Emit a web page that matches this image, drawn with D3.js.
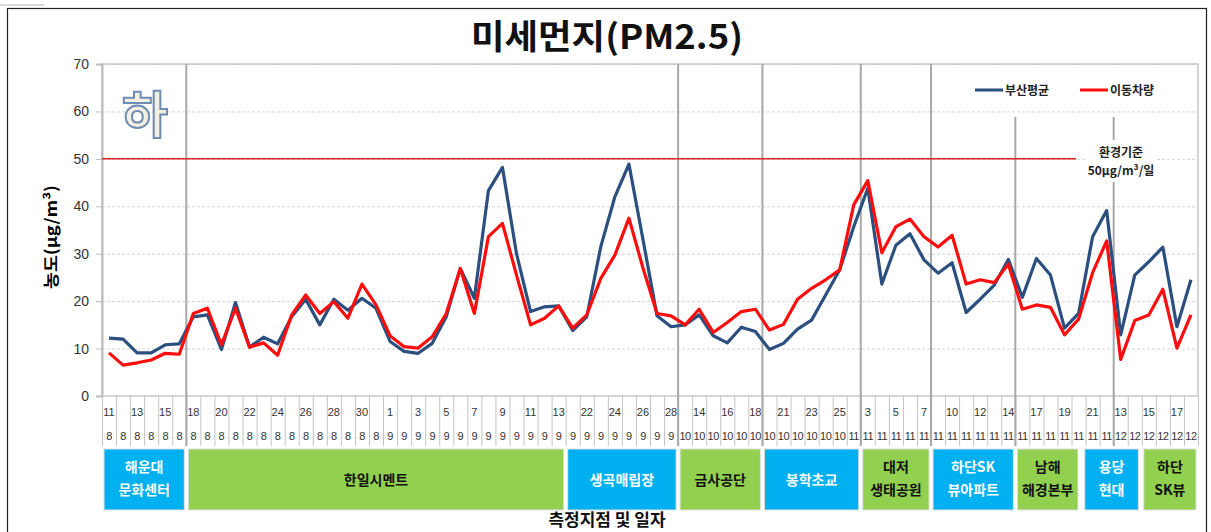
<!DOCTYPE html>
<html>
<head>
<meta charset="utf-8">
<script src="https://cdn.jsdelivr.net/npm/d3@7"></script>
<style>
  body { margin: 0; background: #fff; }
  text { font-family: "Noto Sans CJK KR", "Liberation Sans", sans-serif; }
  .num { font-family: "Liberation Sans", Arial, sans-serif; }
</style>
</head>
<body>
<svg width="1211" height="532"></svg>
<script>
// 측정 일자 (일 / 월)
const dayLabels = [11,12,13,14,15,16,
  18,19,20,21,22,23,24,25,26,27,28,29,30,31,1,2,3,4,5,6,7,8,9,10,11,12,13,
  21,22,23,24,25,26,27,28,
  13,14,15,16,17,18,
  20,21,22,23,24,25,2,
  3,4,5,6,7,
  9,10,11,12,13,14,
  16,17,18,19,20,21,22,
  13,14,15,16,17,18];
const monthLabels = [8,8,8,8,8,8,
  8,8,8,8,8,8,8,8,8,8,8,8,8,8,9,9,9,9,9,9,9,9,9,9,9,9,9,
  9,9,9,9,9,9,9,9,
  10,10,10,10,10,10,
  10,10,10,10,10,10,11,
  11,11,11,11,11,
  11,11,11,11,11,11,
  11,11,11,11,11,11,11,
  12,12,12,12,12,12];

// 부산평균
const busanAvg = [12.2,12.0,9.1,9.1,10.8,11.0,
  16.7,17.1,9.8,19.7,10.3,12.4,11.0,16.7,20.4,15.0,20.4,18.1,20.6,18.5,11.5,9.4,9.0,11.1,16.7,26.9,20.6,43.3,48.2,30.0,17.8,18.8,19.0,
  13.8,16.7,31.5,42.0,48.9,33.0,16.9,14.6,
  15.0,17.1,12.7,11.2,14.5,13.6,
  9.8,11.1,14.1,16.0,21.3,26.6,35.7,
  43.8,23.6,31.8,34.2,28.7,
  25.9,28.1,17.6,20.4,23.4,28.8,
  20.8,29.0,25.5,14.3,17.4,33.6,39.1,
  12.9,25.5,28.3,31.4,14.6,24.5];
// 이동차량
const mobileCar = [9.1,6.5,7.0,7.6,9.0,8.8,
  17.4,18.5,10.8,18.5,10.3,11.2,8.6,17.1,21.3,17.4,19.9,16.4,23.6,19.2,12.7,10.4,10.1,12.5,17.4,26.9,17.4,33.6,36.4,25.5,15.0,16.4,19.0,
  14.3,17.1,24.8,29.7,37.5,27.0,17.4,16.9,
  15.0,18.3,13.4,15.5,17.8,18.3,
  13.9,15.1,20.4,22.7,24.5,26.6,40.3,
  45.4,30.2,35.7,37.3,33.6,
  31.4,33.9,23.6,24.5,23.9,27.8,
  18.3,19.2,18.7,12.9,16.2,26.0,32.7,
  7.7,15.9,17.1,22.5,10.1,17.1];

const yTicks = [0,10,20,30,40,50,60,70];
const standard = 50;

// 측정지점 (구간 시작/끝 인덱스)
const siteNames = [["해운대","문화센터"],["한일시멘트"],["생곡매립장"],["금사공단"],["봉학초교"],
  ["대저","생태공원"],["하단SK","뷰아파트"],["남해","해경본부"],["용당","현대"],["하단","SK뷰"]];
const siteFrom = [0,6,33,41,47,54,59,65,69.8,74];
const siteTo   = [6,33,41,47,54,59,65,69.6,73.9,78];
const siteKind = ["b","g","b","g","b","g","b","g","b","g"];
const fullBreaks = [6,41,47,54,59];
const partBreaks = [65,72];

const svg = d3.select('svg');
const pLeft = 102, pRight = 1198, pTop = 64, pBottom = 396;

const cats = dayLabels.map((d, i) => monthLabels[i] + '/' + d);
const x = d3.scaleBand().domain(cats).range([pLeft, pRight]).padding(0);
const bw = x.bandwidth();
const xi = i => pLeft + i * bw;
const y = d3.scaleLinear().domain([0, 70]).range([pBottom, pTop]);

// outer frame
svg.append('rect').attr('x', 7.5).attr('y', 8.5).attr('width', 1199).attr('height', 540)
  .attr('fill', 'none').attr('stroke', '#222').attr('stroke-width', 1.2);
svg.append('line').attr('x1', 0).attr('x2', 44).attr('y1', 5).attr('y2', 5)
  .attr('stroke', '#ccc').attr('stroke-width', 1.5);

// title
svg.append('text').attr('x', 607).attr('y', 49).attr('text-anchor', 'middle')
  .attr('font-size', 34).attr('font-weight', 'bold').attr('fill', '#111')
  .attr('textLength', 272).attr('lengthAdjust', 'spacingAndGlyphs')
  .text('미세먼지(PM2.5)');

// grid
svg.append('g').selectAll('line').data(yTicks.slice(1)).enter().append('line')
  .attr('x1', pLeft).attr('x2', pRight)
  .attr('y1', d => y(d) + 0.5).attr('y2', d => y(d) + 0.5)
  .attr('stroke', '#d4d4d4').attr('stroke-dasharray', '3,2');
svg.append('rect').attr('x', pLeft).attr('y', pTop).attr('width', pRight - pLeft).attr('height', pBottom - pTop)
  .attr('fill', 'none').attr('stroke', '#c8c8c8').attr('stroke-width', 1.5);

// y axis
const yAxis = d3.axisLeft(y).tickValues(yTicks).tickSize(6).tickPadding(7);
const ya = svg.append('g').attr('transform', 'translate(' + pLeft + ',0)').call(yAxis);
ya.select('.domain').attr('stroke', '#bbb').attr('stroke-width', 2);
ya.selectAll('.tick line').attr('stroke', '#bbb');
ya.selectAll('.tick text').attr('class', 'num').attr('font-size', 14).attr('fill', '#333');

svg.append('text').attr('transform', 'translate(57,237) rotate(-90)')
  .attr('text-anchor', 'middle').attr('font-size', 16).attr('font-weight', 'bold')
  .attr('textLength', 104).attr('lengthAdjust', 'spacingAndGlyphs')
  .text('농도(μg/m³)');

// x category table
const xt = svg.append('g');
xt.selectAll('line.cell').data(d3.range(cats.length + 1)).enter().append('line')
  .attr('class', 'cell')
  .attr('x1', i => xi(i) + 0.5).attr('x2', i => xi(i) + 0.5)
  .attr('y1', pBottom).attr('y2', 446)
  .attr('stroke', '#c4c4c4').attr('stroke-width', 1);
xt.selectAll('text.day').data(cats).enter().append('text')
  .attr('class', 'num')
  .attr('x', d => x(d) + bw / 2).attr('y', 416)
  .attr('text-anchor', 'middle').attr('font-size', 11).attr('fill', '#333')
  .text((d, i) => i % 2 === 0 ? dayLabels[i] : '');
xt.selectAll('text.mon').data(cats).enter().append('text')
  .attr('class', 'num')
  .attr('x', d => x(d) + bw / 2).attr('y', 440)
  .attr('text-anchor', 'middle').attr('font-size', 11).attr('fill', '#333')
  .attr('letter-spacing', -0.5)
  .text((d, i) => monthLabels[i]);

// group separators
svg.append('g').selectAll('line').data(fullBreaks).enter().append('line')
  .attr('x1', i => xi(i)).attr('x2', i => xi(i))
  .attr('y1', pTop).attr('y2', 446)
  .attr('stroke', '#a8a8a8').attr('stroke-width', 2);
svg.append('g').selectAll('line').data(partBreaks).enter().append('line')
  .attr('x1', i => xi(i)).attr('x2', i => xi(i))
  .attr('y1', 117).attr('y2', 446)
  .attr('stroke', '#a8a8a8').attr('stroke-width', 2);

// 환경기준 line
svg.append('line').attr('x1', pLeft).attr('x2', 1076)
  .attr('y1', y(standard)).attr('y2', y(standard))
  .attr('stroke', '#e02424').attr('stroke-width', 1.5);
svg.append('rect').attr('x', 1086).attr('y', 140).attr('width', 70).attr('height', 42).attr('fill', '#fff');
svg.append('text').attr('x', 1121).attr('y', 157).attr('text-anchor', 'middle')
  .attr('font-size', 12).attr('font-weight', 'bold').attr('fill', '#222').text('환경기준');
svg.append('text').attr('x', 1121).attr('y', 175).attr('text-anchor', 'middle')
  .attr('font-size', 12).attr('font-weight', 'bold').attr('fill', '#222').text('50μg/m³/일');

// big "하"
svg.append('text').attr('x', 145).attr('y', 133).attr('text-anchor', 'middle')
  .attr('font-size', 50).attr('font-weight', 'bold')
  .attr('fill', '#f2efe4').attr('stroke', '#6f8db3').attr('stroke-width', 2)
  .text('하');

// lines
const line = d3.line().x((d, i) => x(cats[i]) + bw / 2).y(d => y(d));
svg.append('path').datum(busanAvg).attr('d', line)
  .attr('fill', 'none').attr('stroke', '#2b4f7e').attr('stroke-width', 3.2).attr('stroke-linejoin', 'round');
svg.append('path').datum(mobileCar).attr('d', line)
  .attr('fill', 'none').attr('stroke', '#ff0d0d').attr('stroke-width', 3.2).attr('stroke-linejoin', 'round');

// legend
const legend = [['부산평균', '#2b4f7e', 975], ['이동차량', '#ff0d0d', 1080]];
const lg = svg.append('g').selectAll('g').data(legend).enter().append('g');
lg.append('line').attr('x1', d => d[2]).attr('x2', d => d[2] + 28).attr('y1', 90).attr('y2', 90)
  .attr('stroke', d => d[1]).attr('stroke-width', 3);
lg.append('text').attr('x', d => d[2] + 30).attr('y', 95).attr('font-size', 12).attr('font-weight', 'bold')
  .attr('fill', '#222').text(d => d[0]);

// site boxes
const boxes = svg.append('g').selectAll('g').data(siteNames).enter().append('g');
boxes.append('rect')
  .attr('x', (d, i) => xi(siteFrom[i]) + 2).attr('y', 449)
  .attr('width', (d, i) => xi(siteTo[i]) - xi(siteFrom[i]) - 4).attr('height', 61)
  .attr('fill', (d, i) => siteKind[i] === 'b' ? '#00b0f0' : '#92d050')
  .attr('stroke', '#e0e0e0').attr('stroke-width', 1);
boxes.each(function(d, i) {
  const cx = (xi(siteFrom[i]) + xi(siteTo[i])) / 2;
  const t = d3.select(this).append('text').attr('text-anchor', 'middle')
    .attr('font-size', 14).attr('font-weight', 'bold')
    .attr('fill', siteKind[i] === 'b' ? '#fff' : '#111');
  d.forEach((s, j) => {
    t.append('tspan').attr('x', cx)
      .attr('y', d.length === 1 ? 485 : 472 + j * 23).text(s);
  });
});

svg.append('text').attr('x', 607).attr('y', 526).attr('text-anchor', 'middle')
  .attr('font-size', 17).attr('font-weight', 'bold').attr('fill', '#111')
  .text('측정지점 및 일자');
</script>
</body>
</html>
